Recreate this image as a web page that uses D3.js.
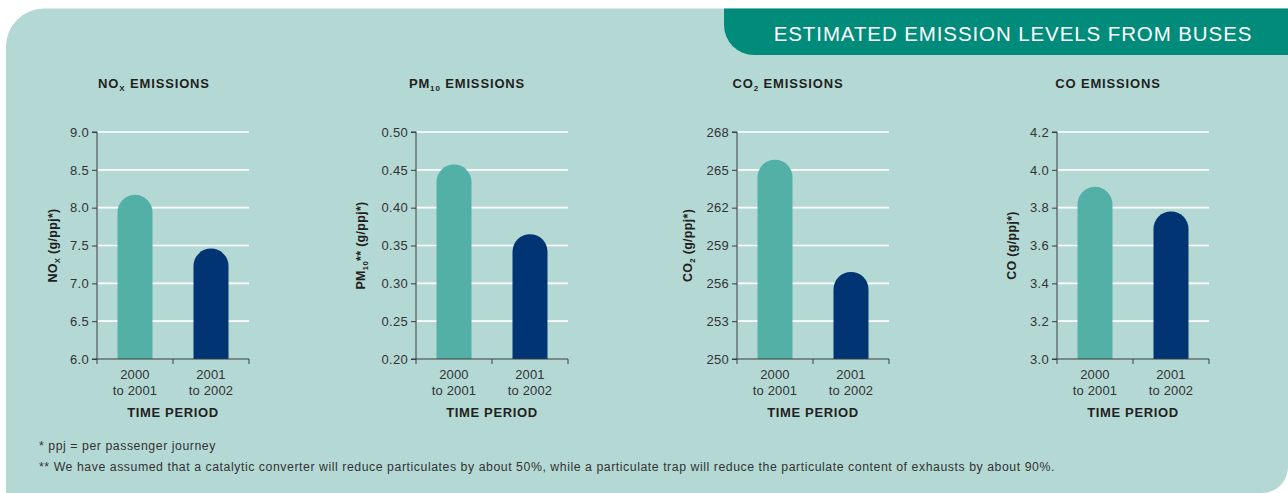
<!DOCTYPE html>
<html>
<head>
<meta charset="utf-8">
<script src="https://cdn.jsdelivr.net/npm/d3@7"></script>
<style>
  html, body { margin: 0; padding: 0; background: #ffffff; }
  svg { display: block; font-family: "Liberation Sans", Arial, Helvetica, sans-serif; }
</style>
</head>
<body>
<svg id="chart" width="1288" height="493"></svg>
<script>
// Time periods shown on every x axis
const periods = [["2000", "to 2001"], ["2001", "to 2002"]];

// Emission values per pollutant (g per passenger journey)
const noxValues  = [8.17, 7.46];
const pm10Values = [0.457, 0.365];
const co2Values  = [265.8, 256.9];
const coValues   = [3.91, 3.78];

// Y tick labels per pollutant
const noxTicks  = ["6.0", "6.5", "7.0", "7.5", "8.0", "8.5", "9.0"];
const pm10Ticks = ["0.20", "0.25", "0.30", "0.35", "0.40", "0.45", "0.50"];
const co2Ticks  = ["250", "253", "256", "259", "262", "265", "268"];
const coTicks   = ["3.0", "3.2", "3.4", "3.6", "3.8", "4.0", "4.2"];

// Titles and axis labels: [main text, subscript, trailing text]
const panelTitles = [["NO", "X", " EMISSIONS"], ["PM", "10", " EMISSIONS"], ["CO", "2", " EMISSIONS"], ["CO", "", " EMISSIONS"]];
const axisLabels  = [["NO", "X", " (g/ppj*)"], ["PM", "10", "** (g/ppj*)"], ["CO", "2", " (g/ppj*)"], ["CO", "", " (g/ppj*)"]];

const footnotes = [
  "* ppj = per passenger journey",
  "** We have assumed that a catalytic converter will reduce particulates by about 50%, while a particulate trap will reduce the particulate content of exhausts by about 90%."
];
const heading = "ESTIMATED EMISSION LEVELS FROM BUSES";

const colors = ["#52b0a6", "#003473"];
const textColor = "#231f20";
const axisColor = "#3c3c3c";

const svg = d3.select("#chart");

// Background panel with rounded top-left and bottom-right corners
const px0 = 6, py0 = 8.5, px1 = 1288, py1 = 493, rTL = 38, rBR = 26;
svg.append("path")
  .attr("d", `M${px0},${py0 + rTL} A${rTL},${rTL} 0 0 1 ${px0 + rTL},${py0} L${px1},${py0} L${px1},${py1 - rBR} A${rBR},${rBR} 0 0 1 ${px1 - rBR},${py1} L${px0},${py1} Z`)
  .attr("fill", "#b4d9d5");

// Heading banner
const bx0 = 724, by0 = 8.5, by1 = 55, rB = 30;
svg.append("path")
  .attr("d", `M${bx0},${by0} L${px1},${by0} L${px1},${by1} L${bx0 + rB},${by1} A${rB},${rB} 0 0 1 ${bx0},${by1 - rB} Z`)
  .attr("fill", "#008b7a");
svg.append("text")
  .attr("x", 1013).attr("y", 40.5)
  .attr("text-anchor", "middle")
  .attr("fill", "#ffffff")
  .attr("font-size", 20.5)
  .attr("letter-spacing", 0.9)
  .text(heading);

const panels = [
  { values: noxValues,  ticks: noxTicks,  axisX: 97,   labelX: 53,   titleX: 154 },
  { values: pm10Values, ticks: pm10Ticks, axisX: 416,  labelX: 361,  titleX: 467 },
  { values: co2Values,  ticks: co2Ticks,  axisX: 737,  labelX: 688,  titleX: 788 },
  { values: coValues,   ticks: coTicks,   axisX: 1057, labelX: 1012, titleX: 1108 }
];

const plotTop = 132, plotBottom = 359, plotWidth = 152, barWidth = 35;

function richText(sel, parts, size) {
  sel.append("tspan").text(parts[0]);
  if (parts[1]) {
    sel.append("tspan").attr("font-size", size * 0.62).attr("dy", 3).text(parts[1]);
    sel.append("tspan").attr("dy", -3).text(parts[2]);
  } else {
    sel.append("tspan").text(parts[2]);
  }
}

panels.forEach((p, i) => {
  const tickVals = p.ticks.map(Number);
  const y = d3.scaleLinear()
    .domain([d3.min(tickVals), d3.max(tickVals)])
    .range([plotBottom, plotTop]);
  const x = d3.scaleBand()
    .domain(periods.map(d => d.join(" ")))
    .range([p.axisX, p.axisX + plotWidth]);

  const g = svg.append("g");

  // Title
  const title = g.append("text")
    .attr("x", p.titleX).attr("y", 88)
    .attr("text-anchor", "middle")
    .attr("fill", textColor)
    .attr("font-weight", "bold")
    .attr("font-size", 13)
    .attr("letter-spacing", 0.85);
  richText(title, panelTitles[i], 13);

  // White gridlines
  g.selectAll("line.grid")
    .data(tickVals.slice(1))
    .join("line")
    .attr("class", "grid")
    .attr("x1", p.axisX + 1).attr("x2", p.axisX + plotWidth)
    .attr("y1", d => y(d)).attr("y2", d => y(d))
    .attr("stroke", "#ffffff")
    .attr("stroke-width", 1.6);

  // Bars with rounded tops
  const r = barWidth / 2;
  g.selectAll("path.bar")
    .data(p.values)
    .join("path")
    .attr("class", "bar")
    .attr("fill", (d, j) => colors[j])
    .attr("d", (d, j) => {
      const cx = x(x.domain()[j]) + x.bandwidth() / 2;
      const x0 = cx - r, x1 = cx + r, yt = y(d);
      return `M${x0},${plotBottom} L${x0},${yt + r} A${r},${r} 0 0 1 ${x1},${yt + r} L${x1},${plotBottom} Z`;
    });

  // Y axis
  const yAxis = d3.axisLeft(y)
    .tickValues(tickVals)
    .tickFormat((d, k) => p.ticks[k])
    .tickSize(5)
    .tickPadding(3);
  const ya = g.append("g")
    .attr("transform", `translate(${p.axisX},0)`)
    .call(yAxis);
  ya.select(".domain").attr("stroke", axisColor).attr("d", `M-5,${plotTop}H0V${plotBottom}H-5`);
  ya.selectAll(".tick line").attr("stroke", axisColor);
  ya.selectAll(".tick text")
    .attr("fill", "#333333")
    .attr("font-size", 13)
    .attr("letter-spacing", 0.3)
    .attr("font-family", "Liberation Sans, Arial, sans-serif");

  // X axis
  const xa = g.append("g")
    .attr("transform", `translate(0,${plotBottom})`);
  xa.append("line")
    .attr("x1", p.axisX).attr("x2", p.axisX + plotWidth)
    .attr("stroke", axisColor);
  xa.selectAll("line.xtick")
    .data([p.axisX, p.axisX + x.bandwidth(), p.axisX + plotWidth])
    .join("line")
    .attr("class", "xtick")
    .attr("x1", d => d).attr("x2", d => d)
    .attr("y1", 0).attr("y2", 5)
    .attr("stroke", axisColor);
  xa.selectAll("text.cat")
    .data(periods)
    .join("text")
    .attr("class", "cat")
    .attr("text-anchor", "middle")
    .attr("fill", "#333333")
    .attr("font-size", 13)
    .attr("letter-spacing", 0.15)
    .attr("transform", d => `translate(${x(d.join(" ")) + x.bandwidth() / 2},0)`)
    .each(function (d) {
      d3.select(this).selectAll("tspan")
        .data(d)
        .join("tspan")
        .attr("x", 0)
        .attr("y", (t, k) => 19.5 + k * 16)
        .text(t => t);
    });

  g.append("text")
    .attr("x", p.axisX + plotWidth / 2).attr("y", 417)
    .attr("text-anchor", "middle")
    .attr("fill", textColor)
    .attr("font-weight", "bold")
    .attr("font-size", 13)
    .attr("letter-spacing", 0.65)
    .text("TIME PERIOD");

  // Rotated y axis label
  const yl = g.append("text")
    .attr("transform", `translate(${p.labelX + 4},${(plotTop + plotBottom) / 2}) rotate(-90)`)
    .attr("text-anchor", "middle")
    .attr("fill", textColor)
    .attr("font-weight", "bold")
    .attr("font-size", 12.5)
    .attr("letter-spacing", 0.3);
  richText(yl, axisLabels[i], 12.5);
});

// Footnotes
svg.selectAll("text.note")
  .data(footnotes)
  .join("text")
  .attr("class", "note")
  .attr("x", 39)
  .attr("y", (d, i) => 450 + i * 21)
  .attr("fill", "#333333")
  .attr("font-size", 12.3)
  .attr("letter-spacing", 0.55)
  .text(d => d);
</script>
</body>
</html>
